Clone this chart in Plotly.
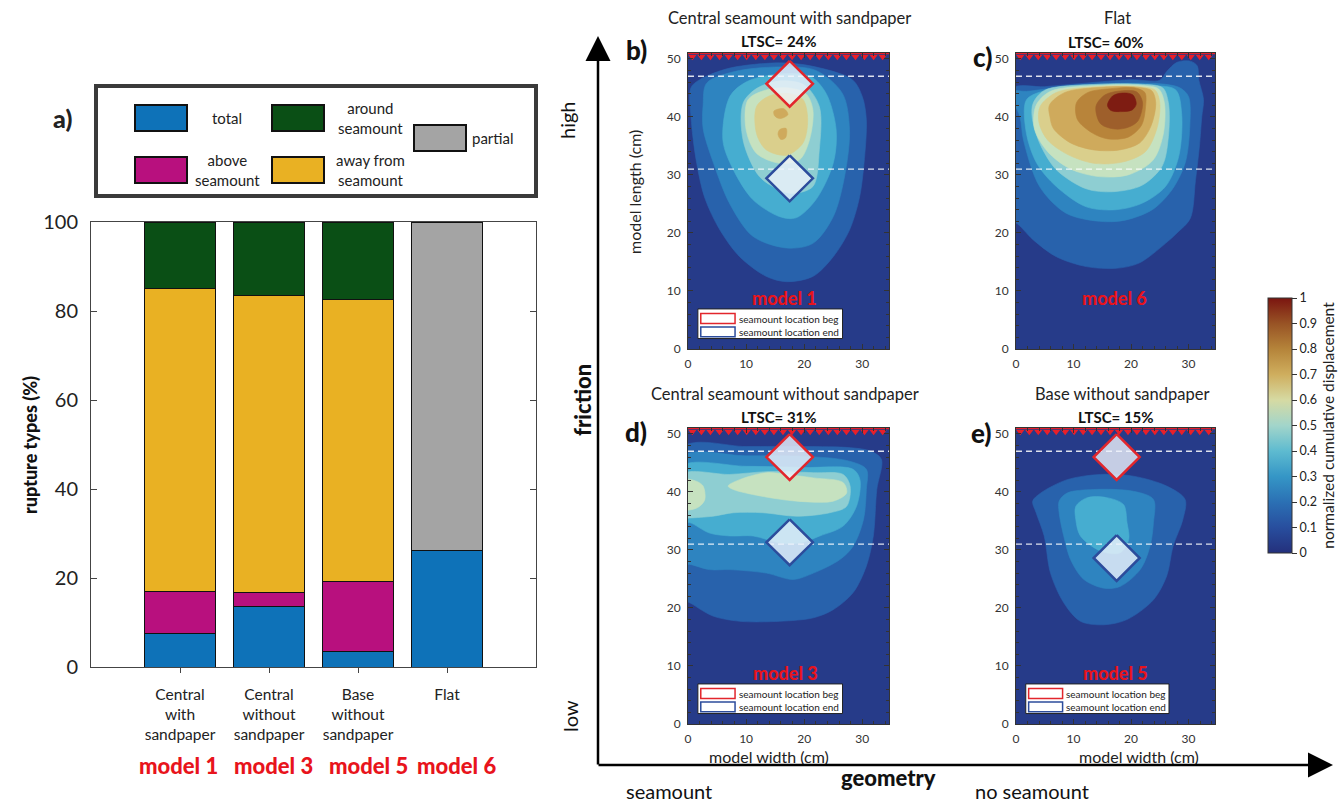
import plotly.graph_objects as go

W, H = 1338, 806
FONT = "Lato"

# ---------------- (a) rupture types (%) ----------------
CATEGORIES = ["Central with sandpaper", "Central without sandpaper",
              "Base without sandpaper", "Flat"]
CATEGORY_LABELS = ["Central<br>with<br>sandpaper", "Central<br>without<br>sandpaper",
                   "Base<br>without<br>sandpaper", "Flat"]
MODEL_NAMES = ["model 1", "model 3", "model 5", "model 6"]
SERIES_NAMES = ["total", "above<br>seamount", "away from<br>seamount",
                "around<br>seamount", "partial"]
TOTAL = [7.5, 13.7, 3.5, 26.2]
ABOVE_SEAMOUNT = [9.5, 3.0, 15.8, None]
AWAY_FROM_SEAMOUNT = [68.0, 66.8, 63.2, None]
AROUND_SEAMOUNT = [15.0, 16.5, 17.5, None]
PARTIAL = [None, None, None, 73.8]
BAR_Y_TICKS = [0, 20, 40, 60, 80, 100]

# ---------------- (b-e) cumulative displacement maps ----------------
PANEL_TITLES = ["Central seamount with sandpaper", "Flat",
                "Central seamount without sandpaper", "Base without sandpaper"]
PANEL_LTSC = [24, 60, 31, 15]
PANEL_MODELS = ["model 1", "model 6", "model 3", "model 5"]
PANEL_LETTERS = ["b)", "c)", "d)", "e)"]
WIDTH_RANGE = [0, 34.6]
LENGTH_RANGE = [0, 51]
SEAMOUNT_LINES = [47, 31]          # dashed reference lines (cm)
SEAMOUNT_X = 17.5                  # seamount centre across model width
SEAMOUNT_BEG_Y = [45.7, None, 46.0, 46.0]   # b, c, d, e
SEAMOUNT_END_Y = [29.4, None, 31.3, 28.6]
CB_TICKS = [0, 0.1, 0.2, 0.3, 0.4, 0.5, 0.6, 0.7, 0.8, 0.9, 1]

# iso-displacement outlines (x, y in cm)
B_01 = [(0.5, 45), (2, 46.4), (7.2, 48.4), (15.8, 49.3), (21.5, 48.7), (28.3, 46.4), (30, 43.5),
        (30.7, 39.5), (30.3, 32), (29.5, 26), (27.8, 20.5), (25, 15.9), (21.5, 12.5), (17, 11.6),
        (13.5, 12.5), (8.9, 15.9), (5.5, 20.5), (2.9, 26), (1.5, 32), (0.6, 39)]
B_02 = [(3.2, 45.8), (8, 47.8), (15.8, 48.6), (22, 48), (26.6, 44), (27.8, 37.8), (27, 30), (25, 22.8),
        (21.5, 18.2), (17, 17.4), (11.2, 19.4), (7.2, 25), (4.4, 32), (2.6, 38), (2.6, 42)]
B_03 = [(7.2, 43.5), (10, 46), (15, 47.3), (21, 47), (23.8, 44), (25.5, 37.8), (25, 32), (22, 25.7),
        (18.6, 22.6), (15.8, 22.8), (11.2, 25.7), (7.8, 30.9), (6, 36)]
B_04 = [(9.5, 42.4), (12, 45), (16, 46.2), (20, 45.5), (22.6, 41.8), (22.6, 34.3), (21.5, 28), (18, 26.8),
        (15.8, 27.4), (12.3, 29.7), (9.5, 35.9)]
B_05 = [(10.3, 42.9), (13, 44.5), (17, 45), (20.3, 44), (21.5, 41.2), (20.9, 36), (19.2, 32.6), (15.8, 32),
        (11.8, 33.7), (10, 37.8)]
B_06 = [(11.8, 41.8), (14, 43.6), (17.5, 44), (19.8, 43), (20.6, 39.5), (19.8, 35.5), (17, 33.4),
        (13.5, 34.3), (11.8, 37.1)]
B_07a = [(14.8, 41.0), (16.5, 41.4), (17.2, 40.4), (15.8, 39.7), (14.9, 40.2)]
B_07b = [(15.8, 37.8), (16.9, 38.0), (16.8, 36.4), (16.0, 36.1), (15.5, 37.0)]

C_01 = [(-1, 44.7), (5, 45.2), (12, 45.8), (20, 46.4), (25, 46.3), (26.2, 47.8), (28, 49.4), (30.3, 49.6),
        (31.5, 48.8), (31.8, 46.3), (32.6, 43), (32.3, 40), (31.9, 35), (31.2, 29), (30.3, 22.5),
        (28, 20), (26, 18.2), (21.4, 14.8), (17.4, 13.9), (12.2, 14.2), (7, 15.9), (3, 18.8), (0, 21.7),
        (-1, 21.7)]
C_02 = [(-1, 44.4), (1.8, 44.4), (10, 45.4), (20, 45.8), (26, 45.6), (28.5, 45), (30, 43.5), (30.2, 38),
        (29.4, 32), (27.1, 27.4), (23.7, 24), (19, 22.2), (14.5, 22), (8.7, 23.4), (4.1, 28), (1.3, 36),
        (0.7, 40)]
C_03 = [(1.8, 42.9), (5, 44.5), (14, 45.3), (22, 45.3), (27.7, 44.7), (28.8, 40.6), (28.3, 33.2), (26, 28),
        (21.9, 25.1), (17.4, 24), (12.2, 24.5), (7, 28), (3.6, 32), (1.8, 37.2)]
C_04 = [(3, 42.4), (5, 44.6), (14, 45.6), (22, 45.6), (25.5, 45), (26.5, 42.4), (26.5, 36.6), (25.4, 31.5),
        (21.9, 28.2), (16.8, 27.1), (12.2, 27.6), (7, 30.9), (4.1, 35.5), (2.8, 40)]
C_05 = [(3.5, 42), (6, 44.4), (14, 45.4), (22, 45.4), (24.8, 44.8), (25.8, 42.4), (25.6, 37), (23.8, 32.5),
        (19.5, 30), (14.5, 29.7), (9.5, 31), (5.5, 34), (3.2, 38)]
C_06 = [(4.2, 41.8), (7, 44.2), (14, 45.2), (21.5, 45.2), (24.2, 44.6), (25, 42.4), (24.5, 38), (22.5, 34),
        (18.5, 32.2), (13.5, 32), (9, 33.5), (5.5, 36), (4, 39)]
C_07 = [(5.8, 42), (8.5, 44.2), (15, 45.1), (21, 45.1), (23.6, 44.5), (24.3, 42.4), (23.5, 38.5),
        (21.5, 35.5), (18, 34.3), (13.5, 34.3), (9.5, 35.5), (6.5, 38), (5.9, 40)]
C_08 = [(10.5, 42.4), (12.5, 44.2), (17, 44.9), (20.5, 45), (22.4, 44.2), (22.5, 41.5), (21.8, 38.5),
        (19.5, 36.5), (16, 36.2), (13.3, 37.2), (10.7, 39.5)]
C_09 = [(13.9, 41.8), (15.5, 43.8), (18.5, 44.5), (21, 44.3), (22, 42.5), (21.2, 39.3), (19.5, 38.2),
        (17.2, 37.9), (14.7, 38.8)]
C_10 = [(15.9, 42), (16.8, 43.6), (18.5, 44.1), (20.3, 43.8), (20.9, 42.2), (20.2, 41.2), (18.2, 40.9),
        (16.5, 41.1)]

D_01 = [(-1, 47.6), (10, 47.8), (20, 47.8), (28, 47.6), (31.5, 47), (33.3, 45.6), (32.5, 40.4), (31.9, 32.4),
        (30.7, 27.2), (28.4, 22.6), (25, 19.7), (21.6, 18.3), (15.8, 17.7), (8.9, 17.7), (4.3, 18.6),
        (1, 20.5), (-1, 22)]
D_02 = [(-1, 46), (10, 46.2), (20, 46.1), (27.3, 45.4), (30.7, 43.9), (30.7, 40.4), (30.2, 35.2),
        (28.4, 30.6), (26.1, 28.3), (21.6, 26), (18.1, 24.9), (13.5, 26), (7.2, 26.6), (3.7, 26.6),
        (0.3, 27.5), (-1, 27.5)]
D_03 = [(-1, 44.4), (10, 44.4), (20, 44.2), (28.4, 43.9), (29.6, 42.1), (29, 37.5), (26.7, 34.1),
        (22.7, 32.4), (19.3, 31.2), (15.8, 31.2), (11.2, 32.4), (7.2, 32.4), (3.7, 32.9), (0.3, 34.7),
        (-1, 34.7)]
D_04 = [(-1, 43), (7.2, 43), (14, 43.5), (21.6, 43.3), (26.7, 43), (27.9, 41), (27.3, 37.5), (24.4, 36.4),
        (18.7, 35.8), (12.9, 36.4), (7.8, 36.4), (4.3, 35.8), (0.3, 35.5), (-1, 35.5)]
D_05a = [(-1, 42.1), (1.5, 41.8), (2.6, 41), (2.9, 38.7), (2, 37.5), (0.9, 37), (-1, 37)]
D_05b = [(6.9, 41), (8.9, 42.1), (13.5, 43.3), (17, 43), (21.6, 42.4), (26.7, 41.6), (27.3, 39.8),
         (25, 38.4), (18.7, 38.4), (12.4, 39.3), (7.8, 40.4)]

E_01 = [(2.9, 38.4), (4.3, 39.8), (8.9, 42.1), (14.7, 43), (20.4, 42.7), (26.2, 41), (29.4, 38.7),
        (29, 35.2), (27.3, 30.6), (26.2, 25.5), (23.9, 21.4), (19.3, 18), (15.3, 17.1), (11.2, 17.7),
        (8.3, 20.9), (6, 26), (4.9, 32.4), (3.5, 36.4)]
E_02 = [(7.5, 38.4), (8.9, 39.8), (13.5, 40.4), (20.4, 40.1), (23.9, 38.7), (23.9, 34.7), (23.3, 30.6),
        (21.6, 26.6), (18.1, 23.7), (15.3, 23.4), (11.8, 24.9), (9.5, 28.3), (8.3, 32.4), (7.5, 36.4)]
E_03 = [(10.4, 37.5), (12.4, 39), (15.8, 39), (18.7, 37.8), (19.3, 34.7), (19.6, 31.8), (18.1, 29.5),
        (14.7, 29.8), (11.2, 32.4), (10.4, 35.2)]

PANEL_B = [(0.1, B_01), (0.2, B_02), (0.3, B_03), (0.4, B_04), (0.5, B_05), (0.6, B_06),
           (0.7, B_07a), (0.7, B_07b)]
PANEL_C = [(0.1, C_01), (0.2, C_02), (0.3, C_03), (0.4, C_04), (0.5, C_05), (0.6, C_06),
           (0.7, C_07), (0.8, C_08), (0.9, C_09), (1.0, C_10)]
PANEL_D = [(0.1, D_01), (0.2, D_02), (0.3, D_03), (0.4, D_04), (0.5, D_05a), (0.5, D_05b)]
PANEL_E = [(0.1, E_01), (0.2, E_02), (0.3, E_03)]

# ---------------- styles ----------------
BAR_COLORS = ["#0E72B8", "#B8107E", "#E9B123", "#0A4F15", "#A4A4A4"]
BAND_COLOR = {0.0: "#263B89", 0.1: "#2862AC", 0.2: "#2E84C0", 0.3: "#46ADD0", 0.4: "#8ECED2",
              0.5: "#C6E2C0", 0.6: "#DACF8C", 0.7: "#CFAA5C", 0.8: "#B8843A", 0.9: "#9E5F2B",
              1.0: "#7E1C12"}
COLORSCALE = [[0.0, "#24307C"], [0.1, "#284E9E"], [0.2, "#2B70B4"], [0.3, "#3596C6"],
              [0.4, "#5EBBD0"], [0.5, "#A2D5CA"], [0.6, "#D6DAA3"], [0.7, "#CFAE5E"],
              [0.8, "#B5843A"], [0.9, "#985325"], [1.0, "#7B1510"]]
RED = "#E8141C"


def px(x):
    return x / W


def py(y):
    return 1 - y / H


def heavy(size, color="#111"):
    return dict(size=size, color=color, weight=900)


fig = go.Figure()

# ---- bar chart ----
for name, vals, col in zip(SERIES_NAMES, [TOTAL, ABOVE_SEAMOUNT, AWAY_FROM_SEAMOUNT,
                                          AROUND_SEAMOUNT, PARTIAL], BAR_COLORS):
    fig.add_trace(go.Bar(x=CATEGORIES, y=vals, name=name.replace("<br>", " "), width=0.8,
                         marker=dict(color=col, line=dict(color="#111", width=1)),
                         showlegend=False, xaxis="x", yaxis="y"))

# ---- displacement panels ----
AX = [("x2", "y2"), ("x3", "y3"), ("x4", "y4"), ("x5", "y5")]
for (xa, ya), outlines, beg, end in zip(AX, [PANEL_B, PANEL_C, PANEL_D, PANEL_E],
                                         SEAMOUNT_BEG_Y, SEAMOUNT_END_Y):
    for level, pts in outlines:
        xs = [p[0] for p in pts] + [pts[0][0]]
        ys = [p[1] for p in pts] + [pts[0][1]]
        fig.add_trace(go.Scatter(x=xs, y=ys, mode="lines", fill="toself",
                                 fillcolor=BAND_COLOR[level],
                                 line=dict(width=0.6, color=BAND_COLOR[level], shape="spline",
                                           smoothing=0.9),
                                 hoverinfo="skip", showlegend=False, xaxis=xa, yaxis=ya))
    for yl in SEAMOUNT_LINES:
        fig.add_trace(go.Scatter(x=WIDTH_RANGE, y=[yl, yl], mode="lines",
                                 line=dict(color="rgba(255,255,255,0.85)", width=1.4, dash="6px,4px"),
                                 hoverinfo="skip", showlegend=False, xaxis=xa, yaxis=ya))
    # trench teeth along the top edge
    teeth_x = [0.75 + 1.56 * i for i in range(22)]
    fig.add_trace(go.Scatter(x=teeth_x, y=[50.35] * len(teeth_x), mode="markers",
                             marker=dict(symbol="triangle-down", size=7, color="#E8202A",
                                         line=dict(width=0)),
                             hoverinfo="skip", showlegend=False, xaxis=xa, yaxis=ya))
    fig.add_trace(go.Scatter(x=WIDTH_RANGE, y=[50.95, 50.95], mode="lines",
                             line=dict(color="#E8202A", width=2),
                             hoverinfo="skip", showlegend=False, xaxis=xa, yaxis=ya))
    for yc, col in [(beg, "#E2262C"), (end, "#2C4C9C")]:
        if yc is None:
            continue
        hx, hy = 4.0, 3.95
        fig.add_trace(go.Scatter(x=[SEAMOUNT_X, SEAMOUNT_X + hx, SEAMOUNT_X, SEAMOUNT_X - hx, SEAMOUNT_X],
                                 y=[yc + hy, yc, yc - hy, yc, yc + hy], mode="lines", fill="toself",
                                 fillcolor="rgba(238,243,251,0.80)",
                                 line=dict(color=col, width=2.5),
                                 hoverinfo="skip", showlegend=False, xaxis=xa, yaxis=ya))

# colour bar (dummy point outside the visible range)
fig.add_trace(go.Scatter(
    x=[-50], y=[-50], mode="markers", xaxis="x2", yaxis="y2", showlegend=False, hoverinfo="skip",
    marker=dict(color=[0.5], cmin=0, cmax=1, colorscale=COLORSCALE, showscale=True, size=1,
                colorbar=dict(x=px(1258), xanchor="left", y=py(425.5), yanchor="middle",
                              len=275 / H, lenmode="fraction", thickness=24, thicknessmode="pixels",
                              outlinewidth=1, outlinecolor="#333", tickvals=CB_TICKS,
                              ticktext=[("%g" % v) for v in CB_TICKS], ticks="outside", ticklen=5,
                              tickcolor="#333", tickfont=dict(size=12.5, color="#222", family=FONT),
                              title=dict(text="normalized cumulative displacement", side="right",
                                         font=dict(size=15.5, color="#222", family=FONT))))))

# ---------------- layout ----------------
panel_x = dict(range=WIDTH_RANGE, showgrid=False, zeroline=False, showline=True, linecolor="#333",
               linewidth=1, mirror="allticks", ticks="inside", ticklen=5, tickcolor="#333",
               tickvals=[0, 10, 20, 30], ticklabelstandoff=4,
               minor=dict(dtick=2, tick0=0, ticks="inside", ticklen=3, tickcolor="#333"),
               tickfont=dict(size=12, color="#333"))
panel_y = dict(range=LENGTH_RANGE, showgrid=False, zeroline=False, showline=True, linecolor="#333",
               linewidth=1, mirror="allticks", ticks="inside", ticklen=5, tickcolor="#333",
               tickvals=[0, 10, 20, 30, 40, 50], ticklabelstandoff=4,
               minor=dict(dtick=2, tick0=0, ticks="inside", ticklen=3, tickcolor="#333"),
               tickfont=dict(size=12, color="#333"))
LEFT_COL = [px(688), px(889)]
RIGHT_COL = [px(1016), px(1215)]
TOP_ROW = [py(349), py(53)]
BOT_ROW = [py(724), py(428)]

layout = dict(
    width=W, height=H, margin=dict(l=0, r=0, t=0, b=0, autoexpand=False), autosize=False,
    paper_bgcolor="white", plot_bgcolor="white", barmode="stack",
    font=dict(family=FONT, color="#111"),
    xaxis=dict(domain=[px(91), px(536)], anchor="y", range=[-1, 4], type="category",
               categoryorder="array", categoryarray=CATEGORIES, tickvals=CATEGORIES,
               ticktext=CATEGORY_LABELS, showline=True, mirror=True, linecolor="#444",
               ticks="outside", ticklen=5, tickcolor="#444", ticklabelstandoff=8,
               tickfont=dict(size=15.5, color="#222"), showgrid=False, zeroline=False),
    yaxis=dict(domain=[py(667), py(222)], anchor="x", range=[0, 100], tickvals=BAR_Y_TICKS,
               showline=True, mirror="allticks", linecolor="#444", ticks="inside", ticklen=6,
               tickcolor="#444", ticklabelstandoff=8, tickfont=dict(size=20, color="#222"),
               showgrid=False, zeroline=False),
    xaxis2=dict(panel_x, domain=LEFT_COL, anchor="y2"),
    yaxis2=dict(panel_y, domain=TOP_ROW, anchor="x2"),
    xaxis3=dict(panel_x, domain=RIGHT_COL, anchor="y3"),
    yaxis3=dict(panel_y, domain=TOP_ROW, anchor="x3"),
    xaxis4=dict(panel_x, domain=LEFT_COL, anchor="y4"),
    yaxis4=dict(panel_y, domain=BOT_ROW, anchor="x4"),
    xaxis5=dict(panel_x, domain=RIGHT_COL, anchor="y5"),
    yaxis5=dict(panel_y, domain=BOT_ROW, anchor="x5"),
)

shapes = []
ann = []

# panel backgrounds (lowest band)
for xa, ya in AX:
    shapes.append(dict(type="rect", xref=xa + " domain", yref=ya + " domain", x0=0, x1=1, y0=0, y1=1,
                       fillcolor=BAND_COLOR[0.0], line=dict(width=0), layer="below"))

# (a) legend frame and swatches
shapes.append(dict(type="rect", xref="paper", yref="paper", x0=px(96), x1=px(536), y0=py(196), y1=py(86),
                   line=dict(color="#3A3A3A", width=4), fillcolor="rgba(0,0,0,0)"))
LEG_SWATCH_PX = [(135, 105), (135, 157), (272, 157), (272, 105), (414, 125)]
LEG_TEXT_PX = [(227, 118), (227, 170), (370, 170), (370, 118), (470, 138)]
for (sx, sy), (tx, ty), name, col in zip(LEG_SWATCH_PX, LEG_TEXT_PX, SERIES_NAMES, BAR_COLORS):
    shapes.append(dict(type="rect", xref="paper", yref="paper", x0=px(sx), x1=px(sx + 52),
                       y0=py(sy + 26), y1=py(sy), fillcolor=col, line=dict(color="#111", width=2)))
    ann.append(dict(xref="paper", yref="paper", x=px(tx), y=py(ty), text=name, showarrow=False,
                    font=dict(size=15, color="#222"),
                    xanchor="left" if name == "partial" else "center", yanchor="middle"))
ann.append(dict(xref="paper", yref="paper", x=px(62), y=py(118), text="a)", showarrow=False,
                font=heavy(25, "#222"), xanchor="center", yanchor="middle"))
ann.append(dict(xref="paper", yref="paper", x=px(30), y=py(445), text="rupture types (%)",
                showarrow=False, textangle=-90, font=heavy(18), xanchor="center", yanchor="middle"))
MODEL_LABEL_PX = [179, 273, 368, 456]
for name, mx in zip(MODEL_NAMES, MODEL_LABEL_PX):
    ann.append(dict(xref="paper", yref="paper", x=px(mx), y=py(765), text=name,
                    showarrow=False, font=heavy(22, RED), xanchor="center", yanchor="middle"))

# panel texts
TITLE_PX = [(789, 18), (1117, 18), (785, 394), (1122, 394)]
LTSC_PX = [(779, 41), (1106, 42), (779, 417), (1116, 417)]
LETTER_PX = [(636, 50), (982, 57), (636, 432), (981, 433)]
MODEL_POS = [16.6, 17.1, 16.8, 17.3]
for i, (xa, ya) in enumerate(AX):
    ann.append(dict(xref="paper", yref="paper", x=px(TITLE_PX[i][0]), y=py(TITLE_PX[i][1]),
                    text=PANEL_TITLES[i], showarrow=False, font=dict(size=16.5, color="#222"),
                    xanchor="center", yanchor="middle"))
    ann.append(dict(xref="paper", yref="paper", x=px(LTSC_PX[i][0]), y=py(LTSC_PX[i][1]),
                    text="LTSC= %d%%" % PANEL_LTSC[i], showarrow=False,
                    font=dict(size=15, color="#111", weight="bold"), xanchor="center", yanchor="middle"))
    ann.append(dict(xref="paper", yref="paper", x=px(LETTER_PX[i][0]), y=py(LETTER_PX[i][1]),
                    text=PANEL_LETTERS[i], showarrow=False,
                    font=heavy(26), xanchor="center", yanchor="middle"))
    ann.append(dict(xref=xa, yref=ya, x=MODEL_POS[i], y=8.8, text=PANEL_MODELS[i],
                    showarrow=False, font=heavy(18, RED), xanchor="center", yanchor="middle"))
    if SEAMOUNT_BEG_Y[i] is not None:
        # inner legend box
        shapes.append(dict(type="rect", xref=xa, yref=ya, x0=1.7, x1=26.6, y0=1.8, y1=6.9,
                           fillcolor="white", line=dict(color="#222", width=1)))
        for (y0, y1, col, txt, ty) in [(4.4, 6.1, "#E2262C", "seamount location beg", 5.25),
                                       (2.1, 3.8, "#2C4C9C", "seamount location end", 2.95)]:
            shapes.append(dict(type="rect", xref=xa, yref=ya, x0=2.2, x1=8.1, y0=y0, y1=y1,
                               fillcolor="white", line=dict(color=col, width=1.5)))
            ann.append(dict(xref=xa, yref=ya, x=8.4, y=ty, text=txt, showarrow=False,
                            font=dict(size=10, color="#222"), xanchor="left", yanchor="middle"))

ann.append(dict(xref="paper", yref="paper", x=px(634), y=py(192), text="model length (cm)",
                showarrow=False, textangle=-90, font=dict(size=16, color="#222"),
                xanchor="center", yanchor="middle"))
for xc in [769, 1139]:
    ann.append(dict(xref="paper", yref="paper", x=px(xc), y=py(756), text="model width (cm)",
                    showarrow=False, font=dict(size=16, color="#222"), xanchor="center", yanchor="middle"))

# friction / geometry arrows
ann.append(dict(xref="paper", yref="paper", x=px(598), y=py(36), ax=0, ay=730, axref="pixel",
                ayref="pixel", text="", showarrow=True, arrowhead=2, arrowsize=2.0, arrowwidth=2.5,
                arrowcolor="#000"))
ann.append(dict(xref="paper", yref="paper", x=px(1333), y=py(765), ax=-736, ay=0, axref="pixel",
                ayref="pixel", text="", showarrow=True, arrowhead=2, arrowsize=2.0, arrowwidth=2.5,
                arrowcolor="#000"))
ann.append(dict(xref="paper", yref="paper", x=px(582), y=py(400), text="friction", showarrow=False,
                textangle=-90, font=heavy(22), xanchor="center", yanchor="middle"))
ann.append(dict(xref="paper", yref="paper", x=px(567), y=py(120), text="high", showarrow=False,
                textangle=-90, font=dict(size=20, color="#111"), xanchor="center", yanchor="middle"))
ann.append(dict(xref="paper", yref="paper", x=px(570), y=py(716), text="low", showarrow=False,
                textangle=-90, font=dict(size=20, color="#111"), xanchor="center", yanchor="middle"))
ann.append(dict(xref="paper", yref="paper", x=px(889), y=py(777), text="geometry", showarrow=False,
                font=heavy(22), xanchor="center", yanchor="middle"))
ann.append(dict(xref="paper", yref="paper", x=px(669), y=py(791), text="seamount", showarrow=False,
                font=dict(size=20, color="#111"), xanchor="center", yanchor="middle"))
ann.append(dict(xref="paper", yref="paper", x=px(1032), y=py(791), text="no seamount", showarrow=False,
                font=dict(size=20, color="#111"), xanchor="center", yanchor="middle"))

layout["shapes"] = shapes
layout["annotations"] = ann
fig.update_layout(**layout)
fig.write_html("out.html")
